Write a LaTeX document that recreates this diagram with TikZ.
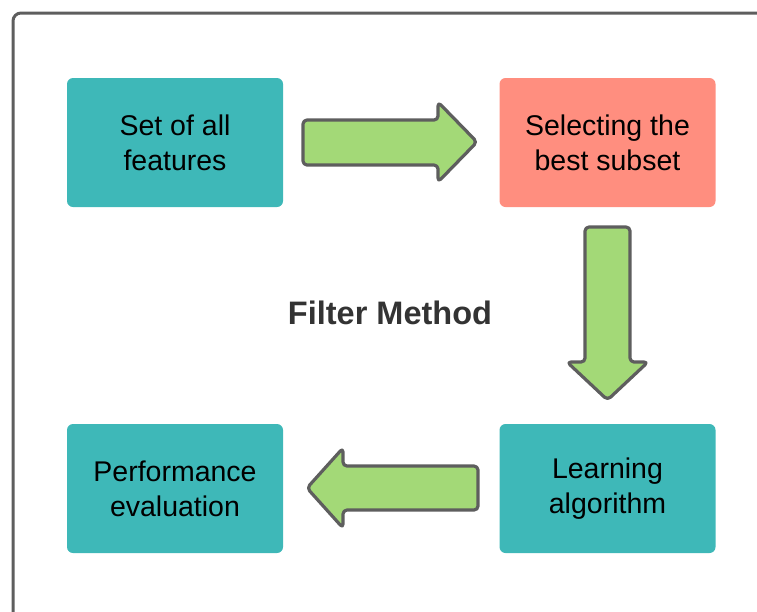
\documentclass[tikz,border=0pt]{standalone}
\usepackage{fontspec}
\setmainfont{Liberation Sans}
\definecolor{teal}{HTML}{3EB8B8}
\definecolor{salmon}{HTML}{FF8E7F}
\definecolor{leaf}{HTML}{A3D977}
\definecolor{edge}{HTML}{5E5E5E}
\definecolor{titlec}{HTML}{333333}
\begin{document}
\begin{tikzpicture}[x=1pt,y=-1pt,
  box/.style={rounded corners=6pt,minimum width=216pt,minimum height=129pt,inner sep=0pt,
    align=center,font=\fontsize{28.5}{35}\selectfont,text=black},
  bigarrow/.style={fill=leaf,draw=edge,line width=3.2pt,rounded corners=4pt,line join=round}]
\useasboundingbox (0,0) rectangle (757,611);
\draw[edge,line width=3pt,rounded corners=8pt] (13,13) rectangle (780,640);
\node[box,fill=teal] (all) at (175,142.5) {Set of all\\features};
\node[box,fill=salmon] (best) at (607.5,142.5) {Selecting the\\best subset};
\node[box,fill=teal] (perf) at (175,488.5) {Performance\\evaluation};
\node[box,fill=teal] (learn) at (607.5,488.5) {Learning\\algorithm};
\node[font=\bfseries\fontsize{32.5}{38}\selectfont,text=titlec] (title) at (390,313) {Filter Method};
\draw[bigarrow] (303,120) -- (438,120) -- (438,102) -- (477,142) -- (438,182) -- (438,165) -- (303,165) -- cycle;
\draw[bigarrow] (585,227) -- (630,227) -- (630,362) -- (648,362) -- (607.5,400) -- (567,362) -- (585,362) -- cycle;
\draw[bigarrow] (478,466) -- (343,466) -- (343,448) -- (307,488) -- (343,528) -- (343,510) -- (478,510) -- cycle;
\end{tikzpicture}
\end{document}
